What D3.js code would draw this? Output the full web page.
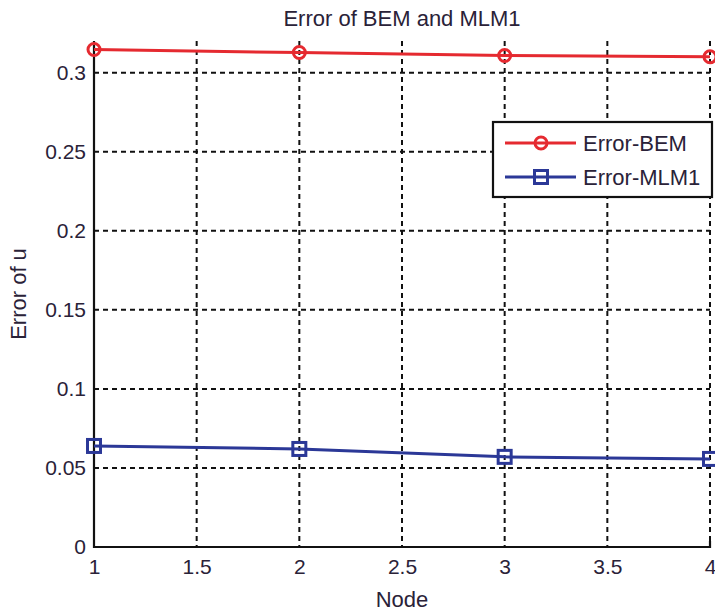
<!DOCTYPE html>
<html>
<head>
<meta charset="utf-8">
<script src="https://cdn.jsdelivr.net/npm/d3@7"></script>
<style>
  body { margin: 0; background: #fff; }
  text { font-family: "Liberation Sans", Arial, sans-serif; fill: #2a2238; }
</style>
</head>
<body>
<svg width="715" height="612"></svg>
<script>
// values
var nodes = [1, 2, 3, 4];
var errorBEM = [0.3146, 0.3127, 0.3108, 0.3100];
var errorMLM1 = [0.0639, 0.0620, 0.0570, 0.0557];
var seriesNames = ["Error-BEM", "Error-MLM1"];
var xTicks = [1, 1.5, 2, 2.5, 3, 3.5, 4];
var yTicks = [0, 0.05, 0.1, 0.15, 0.2, 0.25, 0.3];

var svg = d3.select("svg"),
  width = +svg.attr("width"),
  height = +svg.attr("height");

var margin = {left: 94, right: 5, top: 41, bottom: 65};

var x = d3.scaleLinear()
  .domain([1, 4])
  .range([margin.left, width - margin.right]);

var y = d3.scaleLinear()
  .domain([0, 0.32])
  .range([height - margin.bottom, margin.top]);

var colors = ["#e52a30", "#2b3897"];

// grid
var grid = svg.append("g").attr("class", "grid");
grid.selectAll(".vgrid")
  .data(xTicks.slice(1))
  .enter().append("line")
  .attr("x1", function(d) { return x(d); })
  .attr("x2", function(d) { return x(d); })
  .attr("y1", y(0.32))
  .attr("y2", y(0))
  .attr("stroke", "#111")
  .attr("stroke-width", 2)
  .attr("stroke-dasharray", "5,4");
grid.selectAll(".hgrid")
  .data(yTicks.slice(1))
  .enter().append("line")
  .attr("x1", x(1))
  .attr("x2", x(4))
  .attr("y1", function(d) { return y(d); })
  .attr("y2", function(d) { return y(d); })
  .attr("stroke", "#111")
  .attr("stroke-width", 2)
  .attr("stroke-dasharray", "5,4");

// axes
var xAxis = d3.axisBottom(x)
  .tickValues(xTicks)
  .tickFormat(d3.format("~g"))
  .tickSize(0)
  .tickPadding(12);
var yAxis = d3.axisLeft(y)
  .tickValues(yTicks)
  .tickFormat(d3.format("~g"))
  .tickSize(0)
  .tickPadding(8);

var gx = svg.append("g")
  .attr("transform", "translate(0," + y(0) + ")")
  .call(xAxis);
var gy = svg.append("g")
  .attr("transform", "translate(" + x(1) + ",0)")
  .call(yAxis);

[gx, gy].forEach(function(g) {
  g.select(".domain").remove();
  g.selectAll("text")
    .attr("font-size", 21)
    .attr("font-family", "Liberation Sans, Arial, sans-serif")
    .attr("fill", "#2a2238");
});

svg.append("path")
  .attr("d", "M" + x(1) + "," + y(0.32) + "V" + y(0) + "H" + x(4) + "v-6")
  .attr("fill", "none")
  .attr("stroke", "#111")
  .attr("stroke-width", 2.2);

// series
var series = [errorBEM, errorMLM1];
var line = d3.line()
  .x(function(d, i) { return x(nodes[i]); })
  .y(function(d) { return y(d); });

series.forEach(function(s, k) {
  svg.append("path")
    .datum(s)
    .attr("d", line)
    .attr("fill", "none")
    .attr("stroke", colors[k])
    .attr("stroke-width", 3);
});

svg.append("g").selectAll("circle")
  .data(errorBEM)
  .enter().append("circle")
  .attr("cx", function(d, i) { return x(nodes[i]); })
  .attr("cy", function(d) { return y(d); })
  .attr("r", 6)
  .attr("fill", "none")
  .attr("stroke", colors[0])
  .attr("stroke-width", 3);

svg.append("g").selectAll("rect")
  .data(errorMLM1)
  .enter().append("rect")
  .attr("x", function(d, i) { return x(nodes[i]) - 6.5; })
  .attr("y", function(d) { return y(d) - 6.5; })
  .attr("width", 13)
  .attr("height", 13)
  .attr("fill", "none")
  .attr("stroke", colors[1])
  .attr("stroke-width", 3);

// legend
var legend = svg.append("g").attr("transform", "translate(493,122)");
legend.append("rect")
  .attr("width", 219)
  .attr("height", 75)
  .attr("fill", "#fff")
  .attr("stroke", "#111")
  .attr("stroke-width", 2.2);

var rows = legend.selectAll(".row")
  .data(seriesNames)
  .enter().append("g")
  .attr("transform", function(d, i) { return "translate(0," + (21 + i * 34) + ")"; });

rows.append("line")
  .attr("x1", 12)
  .attr("x2", 83)
  .attr("stroke", function(d, i) { return colors[i]; })
  .attr("stroke-width", 3);

rows.filter(function(d, i) { return i === 0; })
  .append("circle")
  .attr("cx", 48)
  .attr("r", 6)
  .attr("fill", "none")
  .attr("stroke", colors[0])
  .attr("stroke-width", 3);

rows.filter(function(d, i) { return i === 1; })
  .append("rect")
  .attr("x", 41.5)
  .attr("y", -6.5)
  .attr("width", 13)
  .attr("height", 13)
  .attr("fill", "none")
  .attr("stroke", colors[1])
  .attr("stroke-width", 3);

rows.append("text")
  .attr("x", 90)
  .attr("dy", "0.35em")
  .attr("font-size", 22)
  .text(function(d) { return d; });

// titles
svg.append("text")
  .attr("x", (x(1) + x(4)) / 2)
  .attr("y", 26)
  .attr("text-anchor", "middle")
  .attr("font-size", 22)
  .text("Error of BEM and MLM1");

svg.append("text")
  .attr("x", (x(1) + x(4)) / 2)
  .attr("y", 607)
  .attr("text-anchor", "middle")
  .attr("font-size", 22)
  .text("Node");

svg.append("text")
  .attr("transform", "translate(26," + y(0.16) + ") rotate(-90)")
  .attr("text-anchor", "middle")
  .attr("font-size", 22)
  .text("Error of u");
</script>
</body>
</html>
